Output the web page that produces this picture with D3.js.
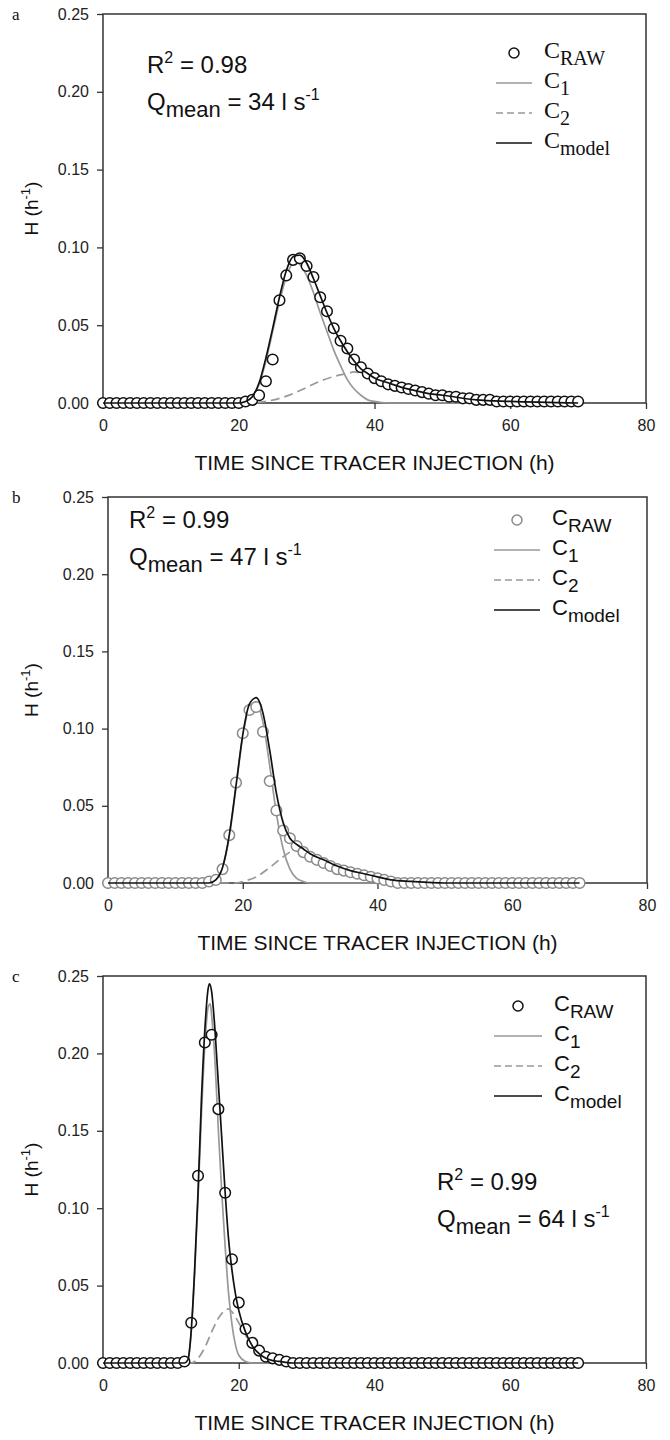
<!DOCTYPE html>
<html>
<head>
<meta charset="utf-8">
<script src="https://cdn.jsdelivr.net/npm/d3@7"></script>
<style>
  body { margin: 0; background: #fff; }
  svg { display: block; }
</style>
</head>
<body>
<svg id="chart" width="670" height="1440"></svg>
<script>
// sampling hours of the raw tracer series (one sample per hour, 0..70)
var hours = d3.range(0, 71);

// panel a, Q = 34 l/s
var rawA = [0,0,0,0,0,0,0,0,0,0, 0,0,0,0,0,0,0,0,0,0, 0,0.001,0.002,0.005,0.014,0.028,0.066,0.082,0.092,0.093,
  0.088,0.081,0.068,0.059,0.048,0.040,0.035,0.028,0.023,0.019, 0.016,0.014,0.012,0.011,0.010,0.009,0.008,0.007,0.006,0.005,
  0.005,0.004,0.004,0.003,0.003,0.002,0.002,0.002,0.001,0.001, 0.001,0.001,0.001,0.001,0.001,0.001,0.001,0.001,0.001,0.001, 0.001];
var c1A = [[0,0],[20,0],[21,0.001],[22,0.004],[23,0.012],[24,0.027],[25,0.046],[26,0.065],[27,0.081],[28,0.090],[28.5,0.091],[29,0.089],
  [30,0.082],[31,0.071],[32,0.058],[33,0.046],[34,0.034],[35,0.024],[36,0.015],[37,0.009],[38,0.005],[39,0.002],[40,0.001],[42,0],[70,0]];
var c2A = [[0,0],[22,0],[24,0.001],[26,0.003],[28,0.006],[30,0.010],[32,0.014],[34,0.017],[36,0.019],[37,0.020],[38,0.019],
  [40,0.017],[42,0.014],[45,0.010],[50,0.005],[55,0.002],[60,0.001],[70,0]];
var modelA = [[0,0],[20,0],[21,0.001],[22,0.004],[23,0.013],[24,0.029],[25,0.048],[26,0.068],[27,0.085],[28,0.094],[29,0.095],
  [30,0.090],[31,0.080],[32,0.069],[33,0.058],[34,0.048],[35,0.040],[36,0.033],[37,0.027],[38,0.022],[39,0.019],[40,0.016],
  [42,0.013],[44,0.010],[46,0.008],[48,0.006],[50,0.005],[55,0.002],[60,0.001],[70,0]];

// panel b, Q = 47 l/s
var rawB = [0,0,0,0,0,0,0,0,0,0, 0,0,0,0,0,0.001,0.002,0.009,0.031,0.065, 0.097,0.112,0.114,0.098,0.066,0.047,0.034,0.029,0.024,0.020,
  0.017,0.015,0.013,0.011,0.009,0.008,0.007,0.006,0.005,0.004, 0.003,0.002,0.001,0,0,0,0,0,0,0,
  0,0,0,0,0,0,0,0,0,0, 0,0,0,0,0,0,0,0,0,0, 0];
var c1B = [[0,0],[15,0],[16,0.002],[17,0.010],[18,0.030],[19,0.062],[20,0.095],[21,0.114],[22,0.117],[23,0.104],[24,0.076],
  [25,0.045],[26,0.022],[27,0.009],[28,0.003],[29,0.001],[30,0],[70,0]];
var c2B = [[0,0],[19,0],[20,0.001],[22,0.004],[24,0.010],[26,0.017],[27,0.020],[28,0.022],[29,0.021],[30,0.019],[32,0.015],
  [34,0.011],[36,0.008],[38,0.006],[40,0.004],[45,0.001],[50,0],[70,0]];
var modelB = [[0,0],[15,0],[16,0.002],[17,0.010],[18,0.031],[19,0.063],[20,0.096],[21,0.116],[22,0.120],[23,0.110],[24,0.086],
  [25,0.058],[26,0.039],[27,0.029],[28,0.025],[29,0.022],[30,0.019],[32,0.015],[34,0.011],[36,0.008],[38,0.006],[40,0.004],
  [42,0.002],[45,0.001],[50,0],[70,0]];

// panel c, Q = 64 l/s
var rawC = [0,0,0,0,0,0,0,0,0,0, 0,0,0.001,0.026,0.121,0.207,0.212,0.164,0.110,0.067, 0.039,0.022,0.013,0.008,0.004,0.003,0.002,0.001,0,0,
  0,0,0,0,0,0,0,0,0,0, 0,0,0,0,0,0,0,0,0,0, 0,0,0,0,0,0,0,0,0,0, 0,0,0,0,0,0,0,0,0,0, 0];
var c1C = [[0,0],[12,0],[12.5,0.002],[13,0.020],[13.5,0.058],[14,0.106],[14.5,0.160],[15,0.205],[15.5,0.230],[15.8,0.232],
  [16,0.225],[16.5,0.195],[17,0.150],[17.5,0.110],[18,0.075],[18.5,0.045],[19,0.025],[19.5,0.012],[20,0.005],[21,0.001],[22,0],[70,0]];
var c2C = [[0,0],[13,0],[14,0.003],[15,0.010],[16,0.020],[17,0.029],[18,0.034],[18.5,0.035],[19,0.033],[20,0.026],[21,0.018],
  [22,0.011],[23,0.007],[24,0.004],[26,0.001],[28,0],[70,0]];
var modelC = [[0,0],[12,0],[12.5,0.002],[13,0.021],[13.5,0.060],[14,0.110],[14.5,0.170],[15,0.215],[15.5,0.242],[15.7,0.245],
  [16,0.240],[16.5,0.215],[17,0.180],[17.5,0.145],[18,0.110],[18.5,0.080],[19,0.060],[19.5,0.045],[20,0.034],[21,0.020],
  [22,0.011],[23,0.006],[24,0.003],[25,0.0015],[26,0.001],[28,0],[70,0]];

var xTicks = [0, 20, 40, 60, 80];
var yTicks = [0, 0.05, 0.10, 0.15, 0.20, 0.25];
var fitR2 = ["0.98", "0.99", "0.99"];
var fitQ = ["34", "47", "64"];
var panelNames = ["a", "b", "c"];

var svg = d3.select("#chart");
var sans = "'Liberation Sans', Arial, sans-serif";
var serif = "'Liberation Serif', 'Times New Roman', serif";

var panels = [
  {name: panelNames[0], raw: rawA, c1: c1A, c2: c2A, model: modelA, r2: fitR2[0], q: fitQ[0],
   box: {left: 103, right: 646, top: 14, bottom: 403}, rawColor: "#111", legFont: serif, legSize: [24, 20],
   legX: 496, legY: 53, legLen: 36, noteX: 147, noteY: 73},
  {name: panelNames[1], raw: rawB, c1: c1B, c2: c2B, model: modelB, r2: fitR2[1], q: fitQ[1],
   box: {left: 108, right: 647, top: 497, bottom: 883}, rawColor: "#8a8a8a", legFont: sans, legSize: [22, 19],
   legX: 494, legY: 520, legLen: 46, noteX: 129, noteY: 528},
  {name: panelNames[2], raw: rawC, c1: c1C, c2: c2C, model: modelC, r2: fitR2[2], q: fitQ[2],
   box: {left: 103, right: 646, top: 976, bottom: 1363}, rawColor: "#111", legFont: sans, legSize: [22, 19],
   legX: 494, legY: 1006, legLen: 48, noteX: 437, noteY: 1190}
];

panels.forEach(drawPanel);

function drawPanel(p) {
  var b = p.box;
  var x = d3.scaleLinear().domain([0, 80]).range([b.left, b.right]);
  var y = d3.scaleLinear().domain([0, 0.25]).range([b.bottom, b.top]);
  var g = svg.append("g");

  // frame
  g.append("rect").attr("x", b.left).attr("y", b.top).attr("width", b.right - b.left).attr("height", b.bottom - b.top)
    .attr("fill", "none").attr("stroke", "#333").attr("stroke-width", 1.5);

  var xAxis = g.append("g").attr("transform", "translate(0," + b.bottom + ")")
    .call(d3.axisBottom(x).tickValues(xTicks).tickSize(6).tickPadding(11).tickFormat(d3.format("d")));
  var yAxis = g.append("g").attr("transform", "translate(" + b.left + ",0)")
    .call(d3.axisLeft(y).tickValues(yTicks).tickSize(6).tickPadding(8).tickFormat(d3.format(".2f")));
  [xAxis, yAxis].forEach(function (a) {
    a.select(".domain").remove();
    a.selectAll("line").attr("stroke", "#333").attr("stroke-width", 1.3);
    a.selectAll("text").attr("font-family", sans).attr("font-size", 16).attr("fill", "#222");
  });

  // axis titles
  g.append("text").attr("x", (b.left + b.right) / 2).attr("y", b.bottom + 67)
    .attr("text-anchor", "middle").attr("font-family", sans).attr("font-size", 21).attr("fill", "#111")
    .text("TIME SINCE TRACER INJECTION (h)");
  var yt = g.append("text").attr("transform", "translate(38," + ((b.top + b.bottom) / 2) + ") rotate(-90)")
    .attr("text-anchor", "middle").attr("font-family", sans).attr("font-size", 19).attr("fill", "#111");
  yt.append("tspan").text("H (h");
  yt.append("tspan").attr("font-size", 13).attr("dy", -8).text("-1");
  yt.append("tspan").attr("dy", 8).text(")");

  // panel letter
  svg.append("text").attr("x", 12).attr("y", b.top + 6).attr("font-family", serif).attr("font-size", 17)
    .attr("fill", "#111").text(p.name);

  var line = d3.line().x(function (d) { return x(d[0]); }).y(function (d) { return y(d[1]); }).curve(d3.curveMonotoneX);

  g.append("path").datum(p.c1).attr("d", line).attr("fill", "none").attr("stroke", "#999").attr("stroke-width", 1.7);
  g.append("path").datum(p.c2).attr("d", line).attr("fill", "none").attr("stroke", "#999").attr("stroke-width", 1.7)
    .attr("stroke-dasharray", "9,5");

  g.selectAll("circle.raw").data(p.raw).enter().append("circle").attr("class", "raw")
    .attr("cx", function (d, i) { return x(hours[i]); })
    .attr("cy", function (d) { return y(d); })
    .attr("r", 5.3).attr("fill", "#fff").attr("stroke", p.rawColor).attr("stroke-width", 1.5);

  g.append("path").datum(p.model).attr("d", line).attr("fill", "none").attr("stroke", "#111").attr("stroke-width", 1.7);

  // legend
  var lg = g.append("g").attr("transform", "translate(" + p.legX + "," + p.legY + ")");
  var items = [
    {sym: "circle", main: "C", sub: "RAW"},
    {sym: "solid", color: "#999", main: "C", sub: "1"},
    {sym: "dash", color: "#999", main: "C", sub: "2"},
    {sym: "solid", color: "#111", main: "C", sub: "model"}
  ];
  items.forEach(function (it, i) {
    var yy = i * 30;
    if (it.sym === "circle") {
      lg.append("circle").attr("cx", p.legLen / 2).attr("cy", yy).attr("r", 5).attr("fill", "#fff")
        .attr("stroke", p.rawColor).attr("stroke-width", 1.5);
    } else {
      lg.append("line").attr("x1", 0).attr("x2", p.legLen).attr("y1", yy).attr("y2", yy).attr("stroke", it.color)
        .attr("stroke-width", 1.7).attr("stroke-dasharray", it.sym === "dash" ? "7,4" : null);
    }
    var t = lg.append("text").attr("x", p.legLen + 12).attr("y", yy + 5).attr("font-family", p.legFont)
      .attr("font-size", p.legSize[0]).attr("fill", "#111");
    t.append("tspan").text(it.main);
    t.append("tspan").attr("font-size", p.legSize[1]).attr("dy", 7).text(it.sub);
  });

  // fit notes
  var n1 = g.append("text").attr("x", p.noteX).attr("y", p.noteY).attr("font-family", sans).attr("font-size", 24).attr("fill", "#111");
  n1.append("tspan").text("R");
  n1.append("tspan").attr("font-size", 16).attr("dy", -10).text("2");
  n1.append("tspan").attr("dy", 10).text(" = " + p.r2);
  var n2 = g.append("text").attr("x", p.noteX).attr("y", p.noteY + 37).attr("font-family", sans).attr("font-size", 24).attr("fill", "#111");
  n2.append("tspan").text("Q");
  n2.append("tspan").attr("font-size", 22).attr("dy", 7).text("mean");
  n2.append("tspan").attr("dy", -7).text(" = " + p.q + " l s");
  n2.append("tspan").attr("font-size", 16).attr("dy", -10).text("-1");
}
</script>
</body>
</html>
